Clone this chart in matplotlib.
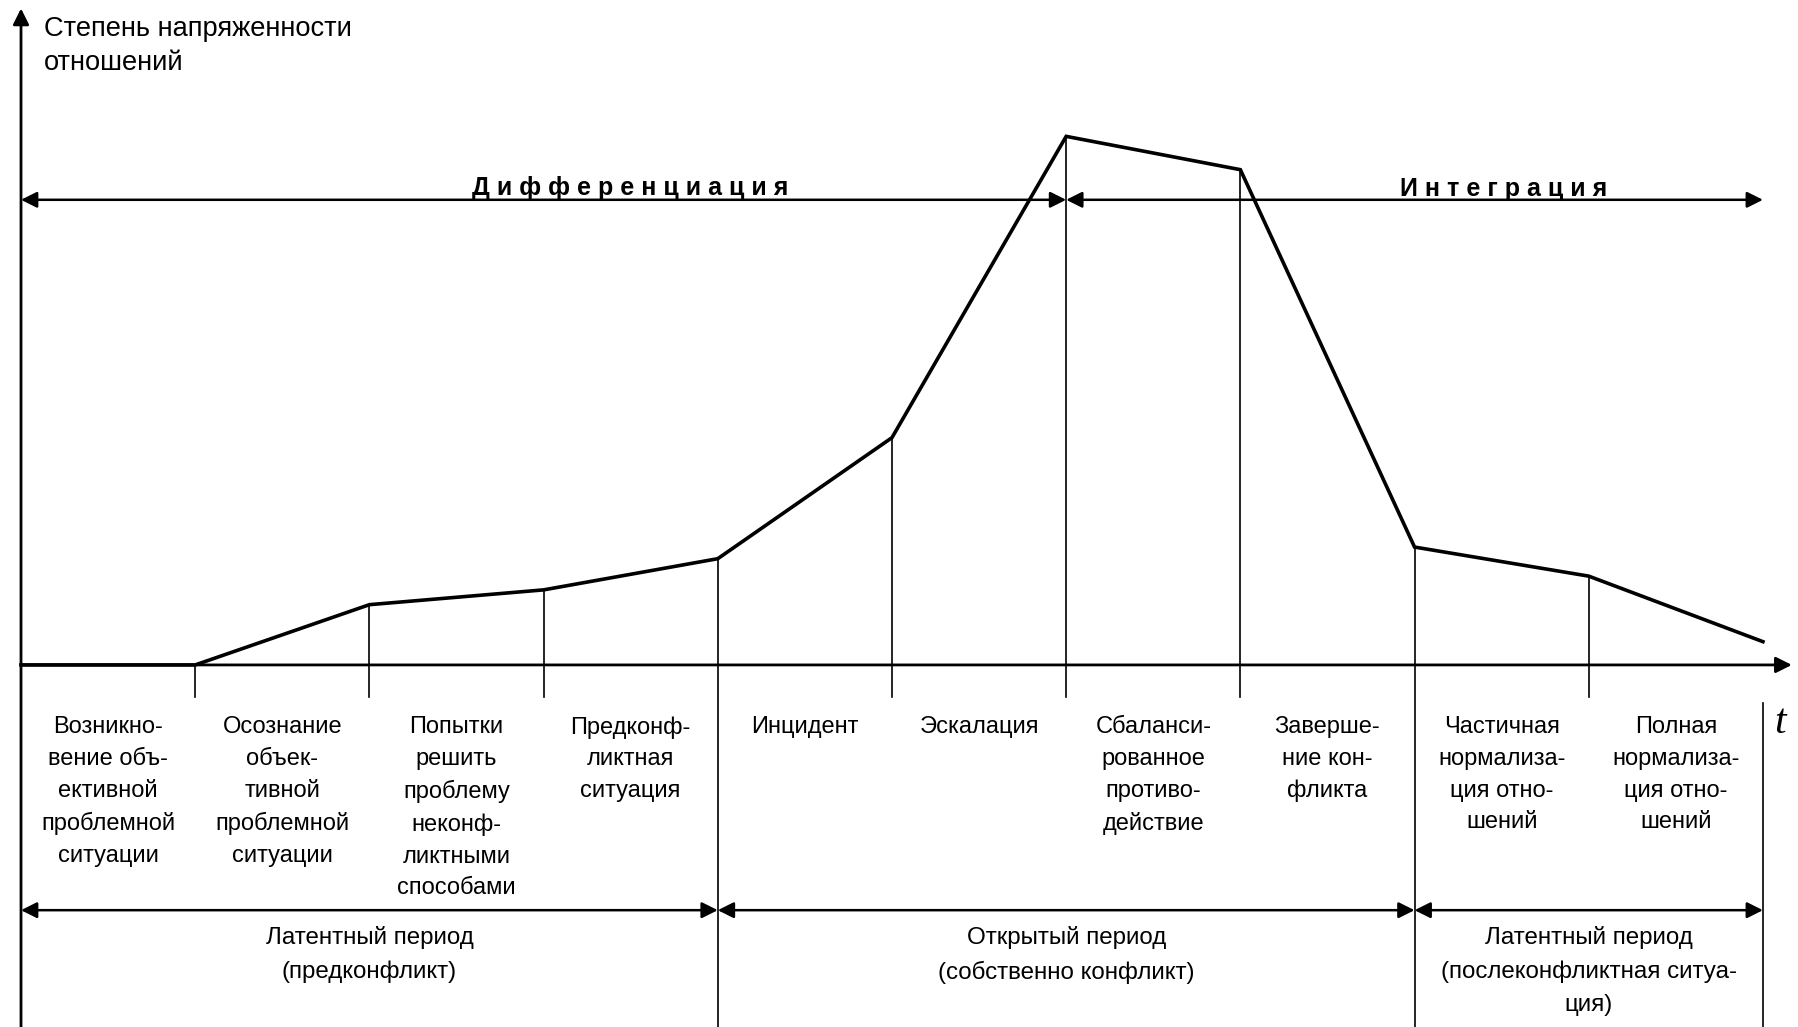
import numpy as np
import matplotlib.pyplot as plt

plt.rcParams['font.family'] = ['Liberation Sans', 'DejaVu Sans']

# stage boundaries (time, in stage units) and tension level at each one
t_points = np.arange(0, 11)
tension = [0, 0, 11.4, 14.2, 20.1, 43.0, 100, 93.7, 22.3, 16.8, 4.4]

stage_labels = [
    "Возникно-\nвение объ-\nективной\nпроблемной\nситуации",
    "Осознание\nобъек-\nтивной\nпроблемной\nситуации",
    "Попытки\nрешить\nпроблему\nнеконф-\nликтными\nспособами",
    "Предконф-\nликтная\nситуация",
    "Инцидент",
    "Эскалация",
    "Сбаланси-\nрованное\nпротиво-\nдействие",
    "Заверше-\nние кон-\nфликта",
    "Частичная\nнормализа-\nция отно-\nшений",
    "Полная\nнормализа-\nция отно-\nшений",
]

period_bounds = [0, 4, 8, 10]
period_labels = [
    "Латентный период\n(предконфликт)",
    "Открытый период\n(собственно конфликт)",
    "Латентный период\n(послеконфликтная ситуа-\nция)",
]

phase_bounds = [0, 6, 10]
phase_labels = ["Дифференциация", "Интеграция"]

y_label = "Степень напряженности\nотношений"

# layout
x_min, x_max = -0.1206, 10.207
y_min, y_max = -68.5, 125.8
tick_low = -6.0
arrow_y_top = 88.0
arrow_y_low = -46.4

fig = plt.figure(figsize=(17.99, 10.27), dpi=100)
ax = fig.add_axes([0, 0, 1, 1])
ax.set_xlim(x_min, x_max)
ax.set_ylim(y_min, y_max)
ax.axis("off")

def arrow(x0, y0, x1, y1, style, lw=1.8):
    ax.annotate("", xy=(x1, y1), xytext=(x0, y0),
                arrowprops=dict(arrowstyle=style, color="black", lw=lw,
                                mutation_scale=24, shrinkA=0, shrinkB=0))

# axes
arrow(0, y_min, 0, 124.2, "-|>", lw=2.0)
arrow(0, 0, 10.166, 0, "-|>", lw=2.0)
ax.text(0.132, 122.8, y_label, ha="left", va="top", fontsize=19.6, linespacing=1.4)
ax.text(10.10, -11.0, "t", ha="center", va="center", fontsize=30,
        style="italic", family="Liberation Serif")

# tension curve
ax.plot(t_points, tension, color="black", lw=2.6, solid_joinstyle="miter")

# stage boundaries
for t, v in zip(t_points[1:], tension[1:]):
    if t in period_bounds[1:-1]:
        ax.plot([t, t], [v, y_min], color="black", lw=1.2)
    elif t == t_points[-1]:
        ax.plot([t, t], [-7.2, y_min], color="black", lw=1.2)
    else:
        ax.plot([t, t], [v, tick_low], color="black", lw=1.2)

# stage names
for i, lab in enumerate(stage_labels):
    ax.text(i + 0.5, -9.7, lab, ha="center", va="top", fontsize=17, linespacing=1.57)

# phases on top
for (a, b), lab in zip(zip(phase_bounds[:-1], phase_bounds[1:]), phase_labels):
    arrow(a, arrow_y_top, b, arrow_y_top, "<|-|>")
ax.text(3.50, arrow_y_top + 0.9, " ".join(phase_labels[0]), ha="center", va="baseline",
        fontsize=18, fontweight="bold")
ax.text(8.51, arrow_y_top + 0.7, " ".join(phase_labels[1]), ha="center", va="baseline",
        fontsize=18, fontweight="bold")

# periods at the bottom
for (a, b), lab in zip(zip(period_bounds[:-1], period_bounds[1:]), period_labels):
    arrow(a, arrow_y_low, b, arrow_y_low, "<|-|>")
    ax.text((a + b) / 2, arrow_y_low - 3.0, lab, ha="center", va="top",
            fontsize=17.4, linespacing=1.64)

plt.savefig("out.png", dpi=100)
